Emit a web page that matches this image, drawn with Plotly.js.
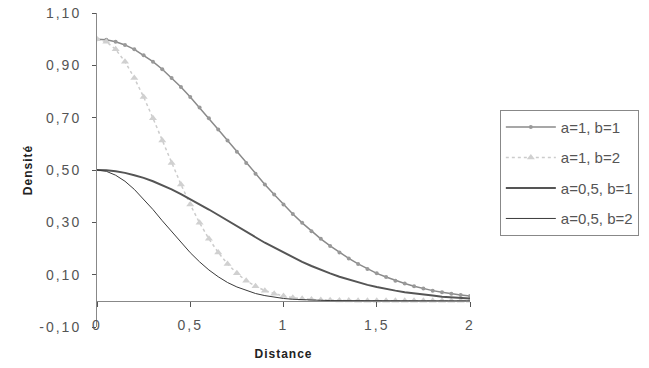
<!DOCTYPE html>
<html>
<head>
<meta charset="utf-8">
<script src="https://cdn.plot.ly/plotly-3.0.1.min.js"></script>
<style>
html,body{margin:0;padding:0;background:#fff;}
#chart{width:649px;height:368px;}
#chart .xtick text, #chart .x2tick text, #chart .ytick text {letter-spacing:2px;}
#chart .xtitle, #chart .x2title, #chart .ytitle {letter-spacing:1px;}
</style>
</head>
<body>
<div id="chart"></div>
<script>
const distance = [0,0.05,0.1,0.15,0.2,0.25,0.3,0.35,0.4,0.45,0.5,0.55,0.6,0.65,0.7,0.75,0.8,0.85,0.9,0.95,1,
  1.05,1.1,1.15,1.2,1.25,1.3,1.35,1.4,1.45,1.5,1.55,1.6,1.65,1.7,1.75,1.8,1.85,1.9,1.95,2];
const a1b1 = [1.000,0.998,0.990,0.978,0.961,0.939,0.914,0.885,0.852,0.817,0.779,0.739,0.698,0.655,0.613,0.570,0.527,0.486,0.445,0.406,0.368,
  0.332,0.298,0.266,0.237,0.210,0.185,0.162,0.141,0.122,0.105,0.091,0.077,0.066,0.056,0.047,0.039,0.033,0.027,0.022,0.018];
const a1b2 = [1.000,0.990,0.961,0.914,0.852,0.779,0.698,0.613,0.527,0.445,0.368,0.298,0.237,0.185,0.141,0.105,0.077,0.056,0.039,0.027,0.018,
  0.012,0.008,0.005,0.003,0.002,0.001,0.001,0,0,0,0,0,0,0,0,0,0,0,0,0];
const a05b1 = [0.500,0.499,0.495,0.489,0.480,0.470,0.457,0.442,0.426,0.408,0.389,0.370,0.349,0.328,0.306,0.285,0.264,0.243,0.222,0.203,0.184,
  0.166,0.149,0.133,0.118,0.105,0.092,0.081,0.070,0.061,0.053,0.045,0.039,0.033,0.028,0.023,0.020,0.016,0.014,0.011,0.009];
const a05b2 = [0.500,0.495,0.480,0.457,0.426,0.389,0.349,0.306,0.264,0.222,0.184,0.149,0.118,0.092,0.070,0.053,0.039,0.028,0.020,0.014,0.009,
  0.006,0.004,0.003,0.002,0.001,0.001,0,0,0,0,0,0,0,0,0,0,0,0,0,0];
const seriesNames = ['a=1, b=1','a=1, b=2','a=0,5, b=1','a=0,5, b=2'];
const xTicks = [0,0.5,1,1.5,2];
const xTickText = ['0','0,5','1','1,5','2'];
const yTicks = [-0.1,0.1,0.3,0.5,0.7,0.9,1.1];
const yTickText = ['-0,10','0,10','0,30','0,50','0,70','0,90','1,10'];

const fam = '"Liberation Sans", Arial, sans-serif';
const tickFont = {family:fam, size:14, color:'#555'};
const titleFont = {family:fam, size:12, color:'#222'};
const traces = [
  {x:distance, y:a1b1, name:seriesNames[0], legendgroup:'g1', mode:'lines+markers',
   line:{color:'#8a8a8a', width:1.5}, marker:{symbol:'circle', size:4, color:'#999'}},
  {x:distance, y:a1b2, name:seriesNames[1], legendgroup:'g2', mode:'lines+markers',
   line:{color:'#cccccc', width:1.5, dash:'dot'}, marker:{symbol:'triangle-up', size:7, color:'#d0d0d0'}},
  {x:distance, y:a05b1, name:seriesNames[2], legendgroup:'g3', mode:'lines',
   line:{color:'#555', width:2}},
  {x:distance, y:a05b2, name:seriesNames[3], legendgroup:'g4', mode:'lines',
   line:{color:'#3a3a3a', width:1}}
];
const layout = {
  width:649, height:368,
  margin:{l:97, r:179, t:13, b:41, autoexpand:false},
  paper_bgcolor:'#fff', plot_bgcolor:'#fff',
  font:tickFont,
  showlegend:true,
  legend:{x:1.08, y:0.692, xanchor:'left', yanchor:'top', bgcolor:'#fff', bordercolor:'#888', borderwidth:1,
          font:{family:fam, size:15, color:'#555'}, traceorder:'grouped', tracegroupgap:8, itemwidth:50},
  xaxis:{range:[0,2], anchor:'free', position:1/12, showline:true, linecolor:'#888', linewidth:1,
         ticks:'outside', ticklen:5, tickcolor:'#555', tickvals:xTicks, showticklabels:false,
         showgrid:false, zeroline:false, fixedrange:true},
  xaxis2:{range:[0,2], overlaying:'x', anchor:'free', position:0.037, side:'bottom', showline:false, ticks:'',
          tickvals:xTicks, ticktext:xTickText, showgrid:false, zeroline:false, tickfont:tickFont,
          title:{text:'<b>Distance</b>', font:titleFont, standoff:17}},
  yaxis:{range:[-0.1,1.1], showline:true, linecolor:'#888', linewidth:1, ticks:'outside', ticklen:4, tickcolor:'#555',
         tickvals:yTicks, ticktext:yTickText, showgrid:false, zeroline:false, tickfont:tickFont, ticklabelstandoff:8,
         title:{text:'<b>Densité</b>', font:titleFont, standoff:14}}
};
traces.push({x:[0,2], y:[null,null], xaxis:'x2', showlegend:false, hoverinfo:'skip', mode:'lines'});
Plotly.newPlot('chart', traces, layout, {displayModeBar:false, staticPlot:true});
</script>
</body>
</html>
